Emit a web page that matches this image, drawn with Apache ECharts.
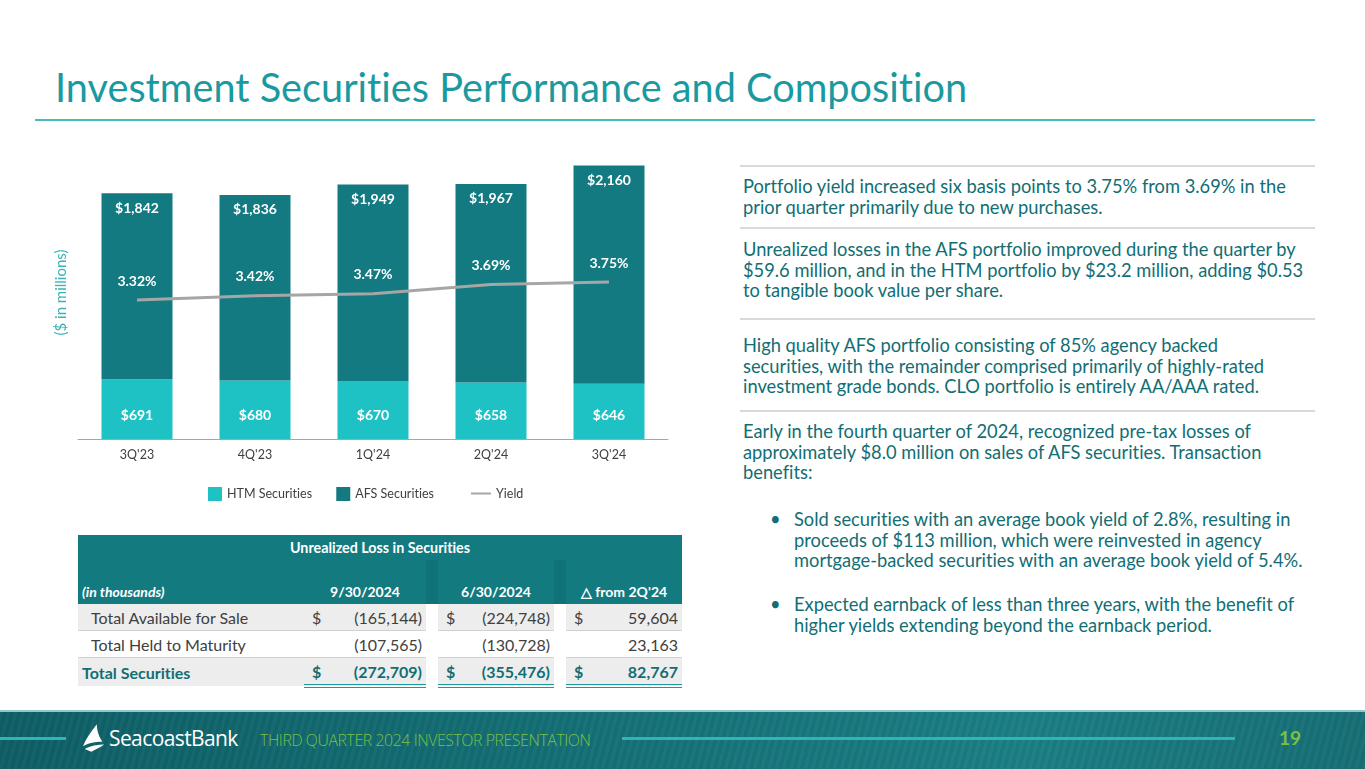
<!DOCTYPE html>
<html>
<head>
<meta charset="utf-8">
<script src="https://cdn.jsdelivr.net/npm/echarts@6/dist/echarts.min.js"></script>
<style>
  html, body { margin: 0; padding: 0; background: #fff; }
  body { width: 1365px; height: 769px; position: relative; overflow: hidden; font-family: Lato, "Open Sans", sans-serif; font-variant-ligatures: none; }
  .title { position: absolute; left: 55px; top: 63px; font-size: 39.7px; color: #1A9AA0; white-space: nowrap; }
  .rule { position: absolute; left: 35px; top: 119px; width: 1280px; height: 2px; background: #45BCC0; }
  #chart { position: absolute; left: 0; top: 0; width: 700px; height: 530px; }
  .notes { position: absolute; left: 740px; top: 0; width: 575px; color: #116E74; font-size: 18.3px; line-height: 20.5px; }
  .sep { position: absolute; left: 0; width: 575px; height: 2px; background: #D9D9D9; }
  .para { position: absolute; left: 3px; white-space: nowrap; }
  .bul { position: absolute; }
  table { position: absolute; left: 78px; top: 535px; width: 604px; border-collapse: collapse; font-size: 16px; color: #404040; }
  td { padding: 0; height: 26px; white-space: nowrap; }
  .h1 td { background: #137A80; color: #fff; font-weight: bold; font-size: 14.3px; text-align: center; height: 25px; }
  .h2 td { background: #137A80; color: #fff; font-weight: bold; font-size: 14px; height: 40px; vertical-align: bottom; padding-bottom: 4px; text-align: center; }
  .gray td { background: #EDEDED; border-bottom: 1px solid #D0D0D0; }
  .white td { background: #fff; border-bottom: 1px solid #D0D0D0; }
  .tot td { background: #EDEDED; color: #116E74; font-weight: bold; font-size: 16px; }
  .tot td.v { border-bottom: 4px double #1A9AA0; }
  td.gap { background: #fff !important; width: 12px; border-bottom: none !important; }
  .cur { width: 18px; padding-left: 8px; }
  .num { text-align: right; padding-right: 4px; }
  .footer { position: absolute; left: 0; top: 710px; width: 1365px; height: 59px;
    background:
      repeating-linear-gradient(105deg, rgba(255,255,255,0.025) 0 3px, rgba(0,0,0,0.03) 3px 7px),
      linear-gradient(90deg, #0F5F66 0%, #146F75 40%, #1B7F84 75%, #176F75 100%);
    border-top: 2px solid #8FC9CB; }
  .fline { position: absolute; height: 3px; background: #2DB6B8; top: 25px; }
  .logo { position: absolute; left: 82px; top: 12px; color: #fff; font-size: 21px; font-family: "Open Sans", sans-serif; letter-spacing: -0.6px; white-space: nowrap; }
  .logo svg { vertical-align: -6px; margin-right: 3px; }
  .pres { position: absolute; left: 260px; top: 17px; color: #7BC043; font-size: 15.8px; white-space: nowrap; font-family: "Open Sans", sans-serif; font-weight: 300; letter-spacing: -0.4px; }
  .page { position: absolute; left: 1279px; top: 14px; color: #7BC043; font-size: 19px; font-weight: bold; }
</style>
</head>
<body>
<div class="title">Investment Securities Performance and Composition</div>
<div class="rule"></div>
<div id="chart"></div>

<div class="notes">
  <div class="sep" style="top:165px"></div>
  <div class="para" style="top:176px">Portfolio yield increased six basis points to 3.75% from 3.69% in the<br>prior quarter primarily due to new purchases.</div>
  <div class="sep" style="top:227px"></div>
  <div class="para" style="top:239px">Unrealized losses in the AFS portfolio improved during the quarter by<br>$59.6 million, and in the HTM portfolio by $23.2 million, adding $0.53<br>to tangible book value per share.</div>
  <div class="sep" style="top:318px"></div>
  <div class="para" style="top:335px">High quality AFS portfolio consisting of 85% agency backed<br>securities, with the remainder comprised primarily of highly-rated<br>investment grade bonds. CLO portfolio is entirely AA/AAA rated.</div>
  <div class="sep" style="top:410px"></div>
  <div class="para" style="top:421px">Early in the fourth quarter of 2024, recognized pre-tax losses of<br>approximately $8.0 million on sales of AFS securities. Transaction<br>benefits:</div>
  <div class="para" style="top:509px"><span class="bul" style="left:27px">•</span><span style="position:absolute;left:51px">Sold securities with an average book yield of 2.8%, resulting in<br>proceeds of $113 million, which were reinvested in agency<br>mortgage-backed securities with an average book yield of 5.4%.</span></div>
  <div class="para" style="top:594px"><span class="bul" style="left:27px">•</span><span style="position:absolute;left:51px">Expected earnback of less than three years, with the benefit of<br>higher yields extending beyond the earnback period.</span></div>
</div>

<table id="tbl"></table>

<div class="footer">
  <div class="fline" style="left:0;width:66px"></div>
  <div class="logo"><svg width="24" height="28" viewBox="0 0 26 30"><path d="M16 0 C10 8 4 16 1 24 C8 20 14 19 22 19 C18 13 16 7 16 0 Z M3 27 C10 23 17 22 24 22 C20 25 15 27 10 30 Z" fill="#fff"/></svg>SeacoastBank</div>
  <div class="pres">THIRD QUARTER 2024 INVESTOR PRESENTATION</div>
  <div class="fline" style="left:622px;width:613px"></div>
  <div class="page">19</div>
</div>

<script>
// chart data
const quarters = ["3Q'23", "4Q'23", "1Q'24", "2Q'24", "3Q'24"];
const htm = [691, 680, 670, 658, 646];
const afs = [1842, 1836, 1949, 1967, 2160];
const yieldPct = [3.32, 3.42, 3.47, 3.69, 3.75];

// table data
const tableTitle = 'Unrealized Loss in Securities';
const tableCols = ['9/30/2024', '6/30/2024', '\u25B3 from 2Q\'24'];
const rowLabels = ['Total Available for Sale', 'Total Held to Maturity', 'Total Securities'];
const col930 = ['(165,144)', '(107,565)', '(272,709)'];
const col630 = ['(224,748)', '(130,728)', '(355,476)'];
const colChg = ['59,604', '23,163', '82,767'];
const showDollar = [true, false, true];

const money = v => '$' + v.toLocaleString('en-US');

// build table
const tbl = document.getElementById('tbl');
let html = '<tr class="h1"><td colspan="10">' + tableTitle + '</td></tr>';
html += '<tr class="h2"><td style="text-align:left;padding-left:4px;font-style:italic;width:222px">(in thousands)</td>' +
  '<td colspan="2">' + tableCols[0] + '</td><td class="gap" style="background:#11737A !important"></td>' +
  '<td colspan="2">' + tableCols[1] + '</td><td class="gap" style="background:#11737A !important"></td>' +
  '<td colspan="2">' + tableCols[2] + '</td></tr>';
const rowCls = ['gray', 'white', 'tot'];
rowLabels.forEach((lab, i) => {
  const d = showDollar[i] ? '$' : '';
  const pad = i === 2 ? '4px' : '13px';
  html += '<tr class="' + rowCls[i] + '"><td style="padding-left:' + pad + '">' + lab + '</td>' +
    '<td class="cur v">' + d + '</td><td class="num v" style="width:92px">' + col930[i] + '</td><td class="gap"></td>' +
    '<td class="cur v">' + d + '</td><td class="num v" style="width:86px">' + col630[i] + '</td><td class="gap"></td>' +
    '<td class="cur v">' + d + '</td><td class="num v">' + colChg[i] + '</td></tr>';
});
tbl.innerHTML = html;

// chart
const myChart = echarts.init(document.getElementById('chart'));
const labelFont = { color: '#fff', fontWeight: 'bold', fontSize: 14, fontFamily: 'Lato, sans-serif' };
myChart.setOption({
  animation: false,
  grid: { left: 78, top: 146, width: 590, height: 293 },
  legend: [
    {
      data: [{ name: 'HTM Securities', icon: 'rect' }, { name: 'AFS Securities', icon: 'rect' }],
      left: 203, top: 482, itemWidth: 14, itemHeight: 14, itemGap: 24,
      textStyle: { color: '#404040', fontSize: 12.5, fontFamily: 'Lato, sans-serif' }
    },
    {
      data: [{ name: 'Yield', itemStyle: { opacity: 0 } }],
      left: 465, top: 482, itemWidth: 20, itemHeight: 14,
      textStyle: { color: '#404040', fontSize: 12.5, fontFamily: 'Lato, sans-serif' }
    }
  ],
  xAxis: {
    type: 'category',
    data: quarters,
    axisLine: { lineStyle: { color: '#A6A6A6', width: 1 } },
    axisTick: { show: false },
    axisLabel: { color: '#404040', fontSize: 12.5, margin: 9, fontFamily: 'Lato, sans-serif' }
  },
  yAxis: [
    {
      type: 'value', min: 100, max: 3000,
      name: '($ in millions)', nameLocation: 'middle', nameRotate: 90, nameGap: 9,
      nameTextStyle: { color: '#3BB3B8', fontSize: 15, fontFamily: 'Lato, sans-serif' },
      axisLine: { show: false }, axisTick: { show: false }, axisLabel: { show: false }, splitLine: { show: false }
    },
    {
      type: 'value', min: 0, max: 7, show: false
    }
  ],
  series: [
    {
      name: 'HTM Securities', type: 'bar', stack: 'total', data: htm, barWidth: 71,
      itemStyle: { color: '#1FC2C4' },
      label: Object.assign({ show: true, position: 'insideBottom', distance: 17, formatter: p => money(p.value) }, labelFont)
    },
    {
      name: 'AFS Securities', type: 'bar', stack: 'total', data: afs, barWidth: 71,
      itemStyle: { color: '#127A80' },
      label: Object.assign({ show: true, position: 'insideTop', distance: 8, formatter: p => money(p.value) }, labelFont)
    },
    {
      name: 'Yield', type: 'line', yAxisIndex: 1, data: yieldPct,
      symbol: 'circle', symbolSize: 0,
      lineStyle: { color: '#A6A6A6', width: 3 },
      itemStyle: { color: '#A6A6A6' },
      label: Object.assign({ show: true, position: 'top', distance: 12, formatter: p => p.value.toFixed(2) + '%' }, labelFont)
    }
  ]
});
</script>
</body>
</html>
